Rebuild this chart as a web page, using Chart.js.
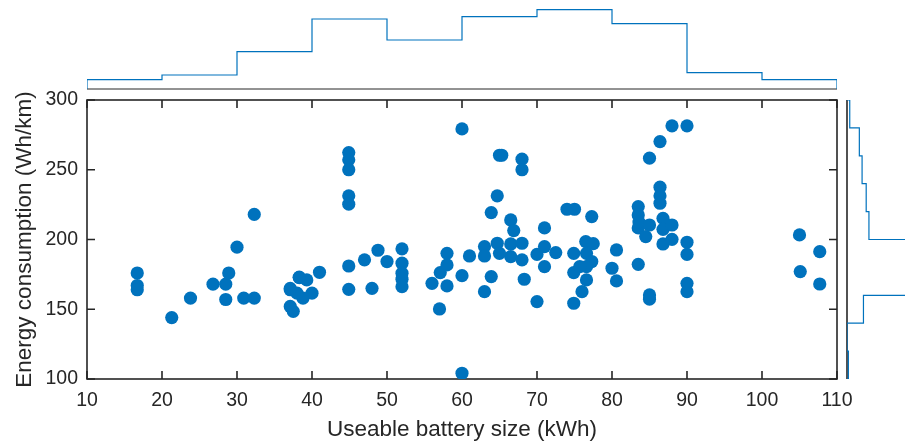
<!DOCTYPE html>
<html>
<head>
<meta charset="utf-8">
<script src="https://cdn.jsdelivr.net/npm/chart.js@4"></script>
<style>
  html, body { margin: 0; padding: 0; background: #fff; }
  #wrap { position: relative; width: 905px; height: 441px; }
  #wrap canvas { position: absolute; left: 0; top: 0; }
</style>
</head>
<body>
<div id="wrap">
  <canvas id="mainChart" width="905" height="441"></canvas>
  <canvas id="topHist" width="905" height="441"></canvas>
  <canvas id="sideHist" width="905" height="441"></canvas>
</div>
<script>
// battery size (kWh) and consumption (Wh/km)
const batteryKWh = [
  16.7, 16.7, 16.7,
  21.3, 23.8, 26.8, 28.5, 28.9, 28.5,
  30.0, 30.9, 32.3, 32.3,
  37.1, 38.3, 39.3, 40.0, 38.8, 37.1, 37.5, 38.0, 38.3, 37.1,
  41.0, 44.9, 44.9, 44.9, 44.9, 44.9, 44.9, 44.9, 47.0, 48.8, 48.0,
  50.0, 52.0, 52.0, 52.0, 52.0, 52.0, 56.0, 57.1, 57.0, 58.0, 58.0, 58.0,
  60.0, 60.0, 60.0, 61.0, 63.0, 63.0, 63.9, 63.0, 63.9, 64.7, 65.0, 65.3,
  64.7, 65.0, 66.5, 66.9, 66.5, 66.5, 68.0, 68.0, 68.0, 68.0, 68.3,
  70.0, 70.0, 71.0, 71.0, 71.0, 72.5, 74.0, 75.0, 74.9, 74.9, 74.9, 76.0,
  76.5, 76.6, 77.3, 76.6, 76.6, 75.7, 77.3, 77.5,
  80.6, 80.0, 80.6, 83.5, 83.5, 83.5, 83.5, 83.6, 84.5, 85.0, 85.0, 85.0, 85.0,
  86.4, 86.4, 86.4, 86.4, 86.8, 86.8, 86.8, 88.0, 88.0, 88.0,
  90.0, 90.0, 90.0, 90.0, 90.0,
  105.0, 107.7, 105.1, 107.7
];
const consumptionWhKm = [
  176, 167, 164,
  144, 158, 168, 168, 176, 157,
  194.5, 158, 158, 218,
  164, 173, 171, 161.5, 158, 152, 148.5, 161.5, 172.7, 165,
  176.5, 262.3, 257.1, 250, 231.3, 225.3, 181, 164.3, 185.4, 192.3, 165,
  184.2, 193.3, 183, 175.8, 171.5, 166.2, 168.6, 176.3, 150.2, 190.1, 181.8, 166.7,
  279.3, 104.1, 174.1, 188.2, 194.9, 188.2, 173.4, 162.6, 219.3, 231.3, 260.4, 260.4,
  197.3, 190.1, 214, 206.4, 196.8, 187.7, 257.6, 250, 197.3, 185.4, 171.5,
  189.3, 155.5, 194.9, 180.5, 208.3, 190.6, 221.7, 221.7, 190.1, 176.3, 154.3, 162.6,
  198.5, 190.1, 184.2, 180.5, 171, 180.5, 216.4, 197,
  192.5, 179.4, 170.3, 223.6, 217.6, 208.3, 182.2, 212.5, 202.1, 210.4, 258.3, 160.3, 157.2,
  270.2, 237.5, 231.3, 226, 215.2, 207.3, 196.8, 210.4, 200.1, 281.5,
  281.5, 198, 189.3, 168.6, 162.6,
  203.3, 191.3, 177, 168.1
];

// marginal histograms (counts per bin)
const topBinEdges = [10, 20, 30, 40, 50, 60, 70, 80, 90, 100, 110];
const topBinCounts = [4, 6, 16, 30, 21, 31, 34, 28, 7, 4];
const sideBinEdges = [100, 120, 140, 160, 180, 200, 220, 240, 260, 280, 300];
const sideBinCounts = [1, 0, 12, 56, 60, 16, 14, 11, 9, 2];

const blue = "#0072BD";
const axisColor = "#262626";
const fontFamily = "'Liberation Sans', Arial, Helvetica, sans-serif";

// box round the scatter + ticks pointing inward (matlab look)
const boxPlugin = {
  id: "box",
  beforeDatasetsDraw(chart) {
    const { ctx, chartArea: a, scales: { x, y } } = chart;
    const len = 8;
    ctx.save();
    ctx.strokeStyle = axisColor;
    ctx.lineWidth = 1.6;
    ctx.strokeRect(a.left, a.top, a.right - a.left, a.bottom - a.top);
    ctx.beginPath();
    x.ticks.forEach(t => {
      const px = x.getPixelForValue(t.value);
      ctx.moveTo(px, a.bottom); ctx.lineTo(px, a.bottom - len);
      ctx.moveTo(px, a.top); ctx.lineTo(px, a.top + len);
    });
    y.ticks.forEach(t => {
      const py = y.getPixelForValue(t.value);
      ctx.moveTo(a.left, py); ctx.lineTo(a.left + len, py);
      ctx.moveTo(a.right, py); ctx.lineTo(a.right - len, py);
    });
    ctx.stroke();
    ctx.restore();
  }
};

// base line of a histogram (at count 0)
const baselinePlugin = {
  id: "baseline",
  beforeDatasetsDraw(chart, args, opts) {
    const { ctx, chartArea: a, scales: { x, y } } = chart;
    ctx.save();
    ctx.strokeStyle = axisColor;
    ctx.lineWidth = opts.width || 1;
    ctx.beginPath();
    if (opts.vertical) {
      const px = x.getPixelForValue(0);
      ctx.moveTo(px, a.top); ctx.lineTo(px, a.bottom);
    } else {
      const py = y.getPixelForValue(0);
      ctx.moveTo(a.left, py); ctx.lineTo(a.right, py);
    }
    ctx.stroke();
    ctx.restore();
  }
};

// 📌 SCATTER
new Chart(document.getElementById("mainChart"), {
  type: "scatter",
  data: {
    datasets: [{
      data: batteryKWh.map((v, i) => ({ x: v, y: consumptionWhKm[i] })),
      backgroundColor: blue,
      borderWidth: 0,
      pointRadius: 6.6,
      pointHoverRadius: 6.6
    }]
  },
  options: {
    responsive: false,
    animation: false,
    layout: { padding: { left: 0, top: 100, right: 68, bottom: 0 } },
    plugins: { legend: { display: false }, tooltip: { enabled: false } },
    scales: {
      x: {
        type: "linear", min: 10, max: 110,
        grid: { display: false, drawTicks: false },
        border: { display: false },
        ticks: { stepSize: 10, color: axisColor, padding: 10, maxRotation: 0,
                 font: { family: fontFamily, size: 19.5 } },
        title: { display: true, text: "Useable battery size (kWh)", color: axisColor,
                 padding: 0, font: { family: fontFamily, size: 22.5, lineHeight: 1 } },
        afterFit(scale) { scale.height = 62; }
      },
      y: {
        type: "linear", min: 100, max: 300,
        grid: { display: false, drawTicks: false },
        border: { display: false },
        ticks: { stepSize: 50, color: axisColor, padding: 9,
                 font: { family: fontFamily, size: 19.5 } },
        title: { display: true, text: "Energy consumption (Wh/km)", color: axisColor,
                 padding: { top: 13.75, bottom: 0 }, font: { family: fontFamily, size: 22.5, lineHeight: 1 } },
        afterFit(scale) { scale.width = 87; }
      }
    }
  },
  plugins: [boxPlugin]
});

// 📌 TOP HISTOGRAM (battery size), drawn as stairs
// start at (first edge, 0), one point per bin at its left edge, end at (last edge, 0)
const topStairs = [{ x: topBinEdges[0], y: 0 }]
  .concat(topBinCounts.map((c, i) => ({ x: topBinEdges[i], y: c })))
  .concat([{ x: topBinEdges[topBinEdges.length - 1], y: 0 }]);

new Chart(document.getElementById("topHist"), {
  type: "scatter",
  data: {
    datasets: [{
      data: topStairs,
      showLine: true,
      stepped: "before",
      borderColor: blue,
      borderWidth: 1.2,
      pointRadius: 0,
      fill: false
    }]
  },
  options: {
    responsive: false,
    animation: false,
    layout: { padding: { left: 87, right: 68, top: 0, bottom: 352 } },
    plugins: { legend: { display: false }, tooltip: { enabled: false }, baseline: { width: 1 } },
    scales: {
      x: { type: "linear", min: 10, max: 110, display: false },
      y: { type: "linear", min: 0, max: 38.14, display: false }
    }
  },
  plugins: [baselinePlugin]
});

// 📌 SIDE HISTOGRAM (consumption), count goes to the right
const sideStairs = [{ x: 0, y: sideBinEdges[0] }]
  .concat(sideBinCounts.map((c, i) => ({ x: c, y: sideBinEdges[i + 1] })))
  .concat([{ x: 0, y: sideBinEdges[sideBinEdges.length - 1] }]);

new Chart(document.getElementById("sideHist"), {
  type: "scatter",
  data: {
    datasets: [{
      data: sideStairs,
      showLine: true,
      stepped: "before",
      borderColor: blue,
      borderWidth: 1.2,
      pointRadius: 0,
      fill: false
    }]
  },
  options: {
    responsive: false,
    animation: false,
    layout: { padding: { left: 847, right: 0, top: 100, bottom: 62 } },
    plugins: { legend: { display: false }, tooltip: { enabled: false },
               baseline: { vertical: true, width: 1.6 } },
    scales: {
      x: { type: "linear", min: 0, max: 42.3, display: false },
      y: { type: "linear", min: 100, max: 300, display: false }
    }
  },
  plugins: [baselinePlugin]
});
</script>
</body>
</html>
